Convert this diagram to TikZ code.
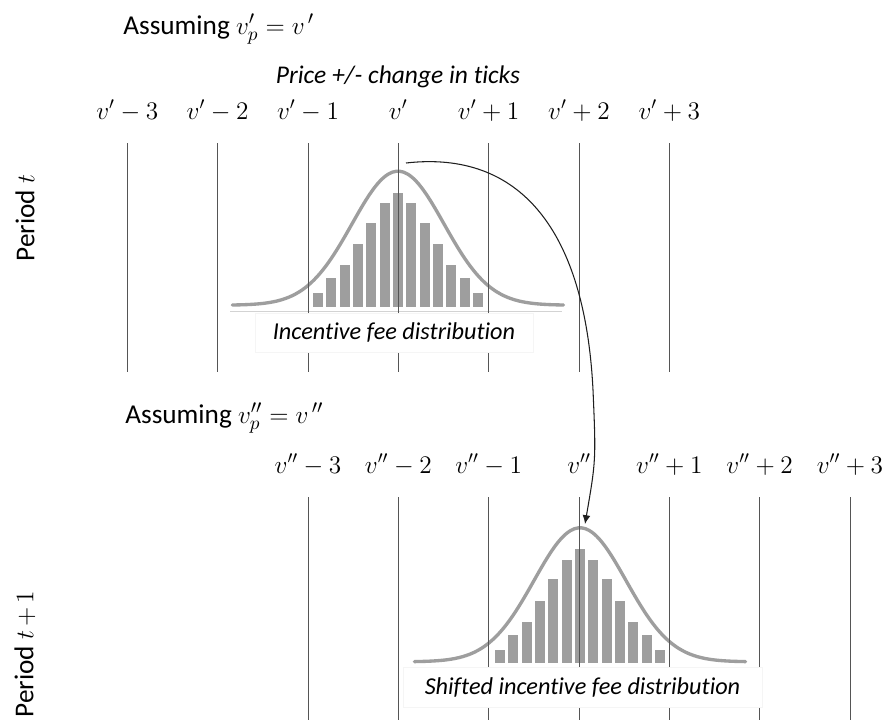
\documentclass[tikz,border=0pt]{standalone}
\usepackage{fontspec}
\setmainfont{Carlito}[Ligatures=NoCommon]
\usepackage{tikz}
\usetikzlibrary{arrows.meta}
\definecolor{ink}{RGB}{30,30,30}
\definecolor{rule}{RGB}{85,85,85}
\definecolor{histo}{RGB}{158,158,158}

\begin{document}
\begin{tikzpicture}[
    x=0.02cm, y=-0.02cm,
    tick/.style={draw=rule, line width=0.5pt},
    bar/.style={fill=histo},
    bell/.style={draw=histo, line width=1.9pt, line cap=round},
    floor/.style={draw=histo!45, line width=0.8pt},
    lab/.style={anchor=base, font=\fontsize{14}{16}\selectfont, inner sep=0pt},
    head/.style={anchor=base west, font=\fontsize{15.5}{18}\selectfont, inner sep=0pt},
    side/.style={rotate=90, font=\fontsize{15.5}{18}\selectfont, inner sep=0pt},
    note/.style={anchor=base, font=\fontsize{14.5}{17}\selectfont\itshape, inner sep=0pt},
    caption/.style={fill=white, draw=black!4, line width=0.4pt,
                    font=\fontsize{13.8}{16}\selectfont\itshape, inner sep=0pt},
    flow/.style={-{Latex[length=5pt, width=4.5pt]}, draw=ink, line width=0.6pt}
  ]
    \useasboundingbox (0,0) rectangle (892,720);
    \fill[white] (0,0) rectangle (892,720);

    \foreach \cx/\by in {398/306.7, 580/663.3}{
      \begin{scope}[shift={(\cx,\by)}]
        \foreach \i/\h in {-6/13.4, -5/28.4, -4/41.7, -3/62.4, -2/84, -1/103.4, 0/114,
                           1/103.4, 2/84, 3/62.4, 4/41.7, 5/28.4, 6/13.4}
          \fill[bar] ({\i*13.33-5},0) rectangle ++(10,-\h);
        \draw[bell] plot[domain=-3.6:3.6, samples=90, smooth]
          ({46*\x}, {-1.5-134*exp(-(\x)^2/2)});
        \draw[floor] (-168,5) -- (164,5);
      \end{scope}
    }

    \foreach \i in {0,...,6}{
      \draw[tick] ({127.3+90.33*\i},143) -- ({127.3+90.33*\i},372);
      \draw[tick] ({308+90.33*\i},497) -- ({308+90.33*\i},720);
    }

    \foreach \i/\txt in {0/{v'-3}, 1/{v'-2}, 2/{v'-1}, 3/{v'}, 4/{v'+1}, 5/{v'+2}, 6/{v'+3}}
      \node[lab] (up\i) at ({127.3+90.33*\i},119) {$\txt$};
    \foreach \i/\txt in {0/{v''-3}, 1/{v''-2}, 2/{v''-1}, 3/{v''}, 4/{v''+1}, 5/{v''+2}, 6/{v''+3}}
      \node[lab] (dn\i) at ({308+90.33*\i},473) {$\txt$};

    \node[head] (asm1) at (123,34) {Assuming $v'_p = v^{\,\prime}$};
    \node[head] (asm2) at (125,423) {Assuming $v''_p = v^{\,\prime\prime}$};
    \node[note] (ticks) at (398,83) {Price +/- change in ticks};

    \node[caption, minimum width=5.56cm, minimum height=0.78cm] (cap1) at (394,332.5) {Incentive fee distribution};
    \node[caption, minimum width=7.18cm, minimum height=0.8cm] (cap2) at (582.5,687) {Shifted incentive fee distribution};

    \node[side] (per1) at (25,218) {Period $t$};
    \node[side] (per2) at (25,654) {Period $t\,{+}\,1$};

    \coordinate (src) at (406,163);
    \coordinate (bend) at (593,390);
    \coordinate (dst) at (585,524);
    \draw[flow] (src) .. controls (520,150) and (585,230) .. (bend) .. controls (596,460) .. (dst);
  \end{tikzpicture}
\end{document}
